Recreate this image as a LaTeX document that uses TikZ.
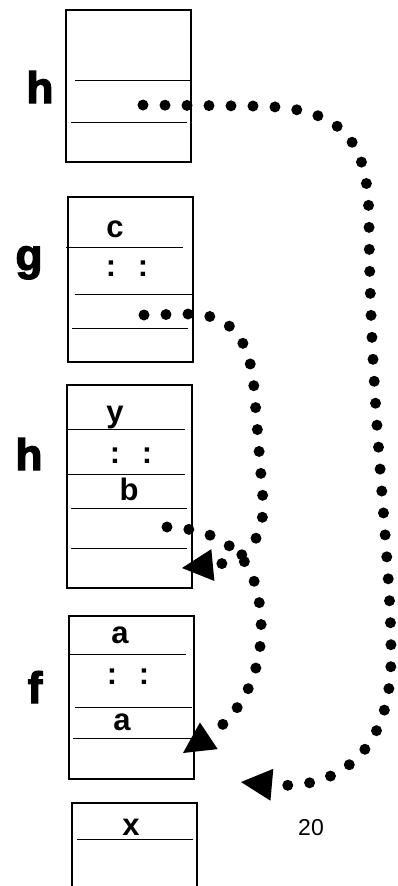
\documentclass[tikz,border=0pt]{standalone}
\usepackage{fontspec}
\setmainfont{Liberation Sans}
\newfontfamily\framefont[FakeBold=3]{Liberation Sans}
\usetikzlibrary{arrows.meta}

\begin{document}
\begin{tikzpicture}[x=1pt,y=-1pt,
	framename/.style={font=\fontsize{44}{44}\framefont\bfseries, anchor=base, inner sep=0pt},
	entry/.style={font=\fontsize{31}{31}\selectfont\bfseries, anchor=base, inner sep=0pt},
	dotlink/.style={line width=11pt, line cap=round, dash pattern=on 0pt off 22pt,
		-{Triangle[length=31pt,width=32pt,line width=0pt]}}]
\useasboundingbox (0,0) rectangle (397,886);
%frame h (top)
\draw[line width=1.2pt] (66,10) rectangle (191,162);
\draw (75,80) -- (191,80)
	(71,122) -- (187,122);
\path (40,103) node[framename] (lblh1) {h};
\coordinate (ptrh1) at (143,105);
%frame g
\draw[line width=1.2pt] (68,197) rectangle (193,362);
\draw (66,247) -- (183,247)
	(75,294) -- (192,294)
	(72,328) -- (188,328);
\path (29,270) node[framename] (lblg) {g};
\path (115,237) node[entry] (gc) {c};
\path (127,276) node[entry] (gdots) {:\hspace{0.7em}:};
\coordinate (ptrg) at (144,315);
%frame h (middle)
\draw[line width=1.2pt] (67,385) rectangle (192,588);
\draw (68,429) -- (185,429)
	(68,474) -- (185,474)
	(71,508) -- (187,508)
	(71,548) -- (187,548);
\path (29,470) node[framename] (lblh2) {h};
\path (115,422) node[entry] (hy) {y};
\path (131,463) node[entry] (hdots) {:\hspace{0.7em}:};
\path (129,500) node[entry] (hb) {b};
\coordinate (ptrh2) at (167,527);
\coordinate (inh2) at (182,568);
%frame f
\draw[line width=1.2pt] (69,616) rectangle (194,779);
\draw (70,654) -- (186,654)
	(75,707) -- (192,707)
	(73,738) -- (192,738);
\path (35,703) node[framename] (lblf) {f};
\path (120,643) node[entry] (fa) {a};
\path (128,684) node[entry] (fdots) {:\hspace{0.7em}:};
\path (122,730) node[entry] (fa2) {a};
\coordinate (inf) at (183,753);
%frame x
\draw[line width=1.2pt] (72,886) |- (197,803) -- (197,886);
\draw (77,839) -- (193,839);
\path (131,835) node[entry] (xx) {x};
\coordinate (inx) at (241,782);
\path (311,835) node[anchor=base, inner sep=0pt, font=\fontsize{23}{23}\selectfont] (num) {20};
%links
\draw[dotlink] (ptrh1) -- (250,106) .. controls (345,106) and (368,140) .. (369,220)
	.. controls (370,420) and (392,560) .. (391,660)
	.. controls (390,760) and (330,790) .. (inx);
\draw[dotlink] (ptrg) -- (189,314) .. controls (240,314) and (252,350) .. (255,400)
	-- (263,500) .. controls (265,540) and (245,562) .. (inh2);
\draw[dotlink] (ptrh2) .. controls (230,530) and (258,560) .. (261,620)
	.. controls (264,690) and (225,725) .. (inf);
\end{tikzpicture}
\end{document}
